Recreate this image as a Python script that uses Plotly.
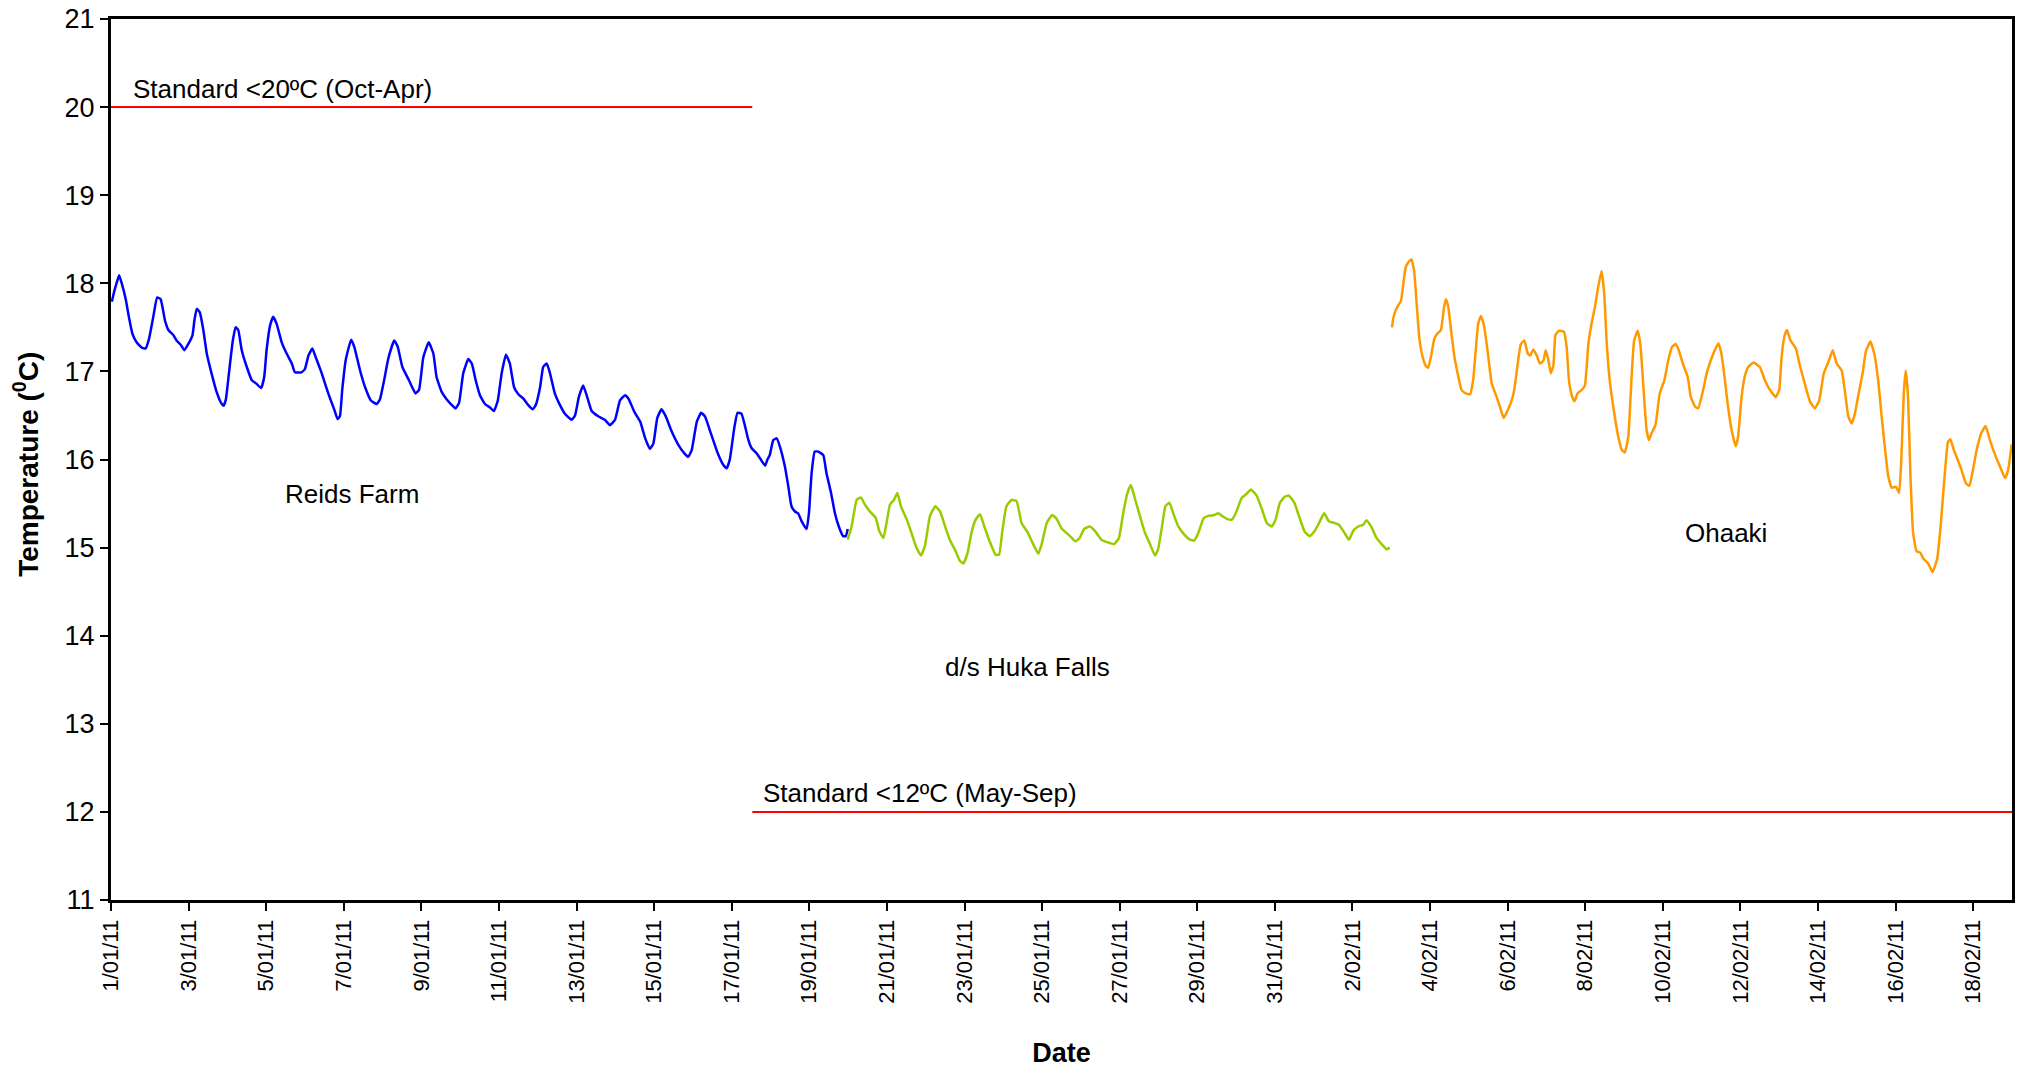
import pandas as pd
import plotly.graph_objects as go

# Logger records, time as elapsed days since 1 Jan 2011 00:00, temperature in deg C
START = pd.Timestamp("2011-01-01")

reids_day = [0.02, 0.09, 0.15, 0.21, 0.27, 0.38, 0.46, 0.55, 0.66, 0.79,
             0.89, 0.98, 1.09, 1.19, 1.28, 1.39, 1.48, 1.61, 1.69, 1.80,
             1.89, 1.99, 2.10, 2.15, 2.21, 2.29, 2.38, 2.47, 2.59, 2.72,
             2.84, 2.90, 2.96, 3.04, 3.14, 3.21, 3.28, 3.37, 3.50, 3.63,
             3.75, 3.87, 3.95, 4.01, 4.10, 4.18, 4.27, 4.40, 4.53, 4.66,
             4.74, 4.91, 5.00, 5.09, 5.19, 5.26, 5.43, 5.60, 5.76, 5.84,
             5.90, 5.96, 6.05, 6.19, 6.27, 6.42, 6.55, 6.70, 6.85, 6.93,
             7.04, 7.15, 7.30, 7.39, 7.51, 7.68, 7.85, 7.94, 8.05, 8.19,
             8.31, 8.39, 8.52, 8.64, 8.78, 8.88, 8.97, 9.08, 9.21, 9.30,
             9.40, 9.51, 9.64, 9.77, 9.87, 9.97, 10.07, 10.18, 10.28, 10.39,
             10.50, 10.63, 10.75, 10.87, 10.95, 11.06, 11.14, 11.23, 11.31, 11.44,
             11.57, 11.70, 11.87, 11.96, 12.06, 12.17, 12.26, 12.39, 12.56, 12.73,
             12.86, 12.99, 13.12, 13.25, 13.34, 13.49, 13.64, 13.77, 13.89, 13.98,
             14.08, 14.19, 14.30, 14.45, 14.62, 14.78, 14.88, 14.97, 15.10, 15.21,
             15.31, 15.46, 15.64, 15.78, 15.87, 15.95, 16.07, 16.15, 16.25,
             16.43, 16.51, 16.64, 16.75, 16.86, 16.92, 16.98, 17.07, 17.16, 17.24,
             17.37, 17.46, 17.54, 17.63, 17.71, 17.80, 17.93, 17.99, 18.06, 18.14,
             18.23, 18.36, 18.44, 18.56, 18.66, 18.76, 18.87, 18.94, 18.99]
reids_temp = [17.79, 17.92, 18.01, 18.09, 18.01, 17.82, 17.62, 17.43, 17.33, 17.27,
              17.26, 17.37, 17.62, 17.84, 17.82, 17.58, 17.47, 17.41, 17.35, 17.30,
              17.24, 17.31, 17.41, 17.58, 17.71, 17.67, 17.47, 17.20, 16.98, 16.77,
              16.64, 16.61, 16.68, 16.98, 17.35, 17.50, 17.47, 17.24, 17.05, 16.90,
              16.86, 16.81, 16.94, 17.24, 17.52, 17.62, 17.54, 17.33, 17.20, 17.09,
              16.99, 16.99, 17.03, 17.18, 17.26, 17.18, 16.98, 16.75, 16.56, 16.46,
              16.49, 16.79, 17.13, 17.36, 17.28, 17.01, 16.82, 16.67, 16.63, 16.68,
              16.90, 17.15, 17.35, 17.28, 17.05, 16.90, 16.75, 16.79, 17.16, 17.33,
              17.20, 16.94, 16.77, 16.69, 16.62, 16.58, 16.64, 16.98, 17.14, 17.09,
              16.90, 16.73, 16.63, 16.59, 16.55, 16.67, 16.98, 17.19, 17.09, 16.82,
              16.74, 16.69, 16.62, 16.57, 16.62, 16.82, 17.05, 17.09, 16.99, 16.75,
              16.62, 16.52, 16.45, 16.50, 16.71, 16.84, 16.73, 16.55, 16.49, 16.45,
              16.39, 16.45, 16.67, 16.73, 16.69, 16.54, 16.43, 16.24, 16.12, 16.18,
              16.47, 16.57, 16.49, 16.32, 16.17, 16.07, 16.03, 16.11, 16.43, 16.53,
              16.49, 16.30, 16.07, 15.94, 15.90, 16.00, 16.37, 16.53, 16.52,
              16.22, 16.13, 16.07, 16.00, 15.93, 16.00, 16.05, 16.22, 16.24, 16.15,
              15.92, 15.69, 15.47, 15.41, 15.39, 15.30, 15.21, 15.39, 15.85, 16.09,
              16.09, 16.05, 15.85, 15.62, 15.39, 15.24, 15.13, 15.13, 15.21]

huka_day = [18.99, 19.09, 19.22, 19.33, 19.43, 19.56, 19.71, 19.80, 19.91, 19.99,
            20.08, 20.18, 20.27, 20.36, 20.51, 20.63, 20.76, 20.88, 20.98, 21.11,
            21.25, 21.37, 21.50, 21.62, 21.77, 21.88, 21.97, 22.08, 22.18, 22.29,
            22.40, 22.51, 22.65, 22.80, 22.89, 22.97, 23.08, 23.21, 23.34, 23.47,
            23.63, 23.77, 23.90, 23.99, 24.12, 24.26, 24.37, 24.50,
            24.72, 24.86, 24.97, 25.08, 25.23, 25.36, 25.53, 25.69, 25.86, 25.98,
            26.09, 26.20, 26.29, 26.39, 26.52, 26.65, 26.78, 26.91, 26.99, 27.08,
            27.18, 27.28, 27.38, 27.51, 27.66, 27.81, 27.92, 28.03, 28.16, 28.28,
            28.44, 28.54, 28.67, 28.80, 28.90, 29.01, 29.14, 29.27, 29.38, 29.53,
            29.67, 29.79, 29.92, 30.02, 30.13, 30.26, 30.36, 30.50, 30.65, 30.77,
            30.90, 31.03, 31.14, 31.27, 31.39, 31.53, 31.65, 31.79, 31.91, 32.02,
            32.15, 32.28, 32.36, 32.48, 32.62, 32.75, 32.88, 32.96]
huka_temp = [15.09, 15.24, 15.54, 15.57, 15.49, 15.41, 15.34, 15.19, 15.11, 15.28,
             15.49, 15.54, 15.62, 15.47, 15.32, 15.17, 15.00, 14.91, 15.02, 15.36,
             15.47, 15.41, 15.24, 15.09, 14.96, 14.85, 14.82, 14.94, 15.17, 15.32,
             15.38, 15.24, 15.07, 14.92, 14.92, 15.17, 15.47, 15.54, 15.53, 15.28,
             15.17, 15.04, 14.93, 15.04, 15.28, 15.37, 15.33, 15.22,
             15.13, 15.07, 15.11, 15.21, 15.24, 15.19, 15.09, 15.06, 15.04, 15.11,
             15.39, 15.62, 15.71, 15.56, 15.36, 15.17, 15.04, 14.91, 14.98, 15.21,
             15.47, 15.51, 15.39, 15.24, 15.15, 15.09, 15.08, 15.17, 15.33, 15.36,
             15.37, 15.39, 15.35, 15.32, 15.32, 15.41, 15.56, 15.61, 15.66, 15.59,
             15.43, 15.28, 15.24, 15.32, 15.51, 15.58, 15.59, 15.51, 15.32, 15.18,
             15.13, 15.19, 15.28, 15.39, 15.30, 15.28, 15.26, 15.17, 15.09, 15.19,
             15.24, 15.26, 15.31, 15.24, 15.11, 15.04, 14.98, 15.00]

ohaaki_day = [33.02, 33.05, 33.11, 33.18, 33.25, 33.31, 33.37, 33.44, 33.52, 33.59,
              33.65, 33.72, 33.80, 33.88, 33.95, 34.02, 34.11, 34.19, 34.28, 34.36,
              34.41, 34.47, 34.54, 34.63, 34.71, 34.81, 34.92, 35.03, 35.11, 35.17,
              35.24, 35.31, 35.39, 35.48, 35.59, 35.70, 35.80, 35.90, 36.00, 36.08,
              36.17, 36.26, 36.34, 36.43, 36.52, 36.58, 36.66, 36.75, 36.83, 36.92,
              36.98, 37.05, 37.11, 37.18, 37.23, 37.32, 37.45, 37.52, 37.58, 37.65,
              37.72, 37.80, 37.91, 37.99, 38.08, 38.16, 38.25, 38.33, 38.42, 38.49,
              38.55, 38.63, 38.75, 38.85, 38.94, 39.02, 39.11, 39.19, 39.26, 39.35,
              39.42, 39.50, 39.58, 39.64, 39.71, 39.81, 39.92, 40.04, 40.14, 40.24,
              40.33, 40.41, 40.53, 40.64, 40.72, 40.83, 40.91,
              41.04, 41.13, 41.21, 41.30, 41.43, 41.51, 41.60, 41.68, 41.77, 41.88,
              41.94, 42.03, 42.11, 42.20, 42.34, 42.50, 42.63, 42.76, 42.91, 43.00,
              43.06, 43.14, 43.20, 43.29, 43.43, 43.53, 43.66, 43.79, 43.92, 44.03,
              44.15, 44.27, 44.38, 44.48, 44.61, 44.70, 44.78, 44.87, 44.95, 45.03,
              45.15, 45.23, 45.35, 45.46, 45.55, 45.64, 45.72, 45.81, 45.90, 46.01,
              46.09, 46.15, 46.21, 46.26, 46.32, 46.38, 46.45, 46.54, 46.64, 46.72,
              46.84, 46.95, 47.07, 47.16, 47.27, 47.35, 47.41, 47.50, 47.58, 47.70,
              47.81, 47.90, 47.98, 48.09, 48.21, 48.32, 48.43, 48.55, 48.69, 48.82,
              48.90, 48.99]
ohaaki_temp = [17.50, 17.60, 17.69, 17.75, 17.80, 17.99, 18.18, 18.24, 18.27, 18.14,
               17.80, 17.39, 17.18, 17.07, 17.04, 17.16, 17.37, 17.43, 17.47, 17.73,
               17.82, 17.73, 17.47, 17.16, 16.98, 16.79, 16.75, 16.74, 16.90, 17.20,
               17.54, 17.63, 17.52, 17.24, 16.86, 16.73, 16.60, 16.47, 16.56, 16.64,
               16.79, 17.09, 17.31, 17.35, 17.20, 17.18, 17.25, 17.18, 17.09, 17.12,
               17.24, 17.13, 16.98, 17.07, 17.41, 17.46, 17.45, 17.28, 16.90, 16.73,
               16.66, 16.75, 16.79, 16.84, 17.31, 17.54, 17.73, 17.95, 18.14, 17.88,
               17.35, 16.90, 16.52, 16.26, 16.11, 16.08, 16.26, 16.90, 17.35, 17.46,
               17.31, 16.82, 16.34, 16.22, 16.30, 16.39, 16.75, 16.90, 17.13, 17.28,
               17.31, 17.24, 17.07, 16.94, 16.71, 16.60, 16.58,
               16.79, 16.98, 17.09, 17.20, 17.32, 17.20, 16.90, 16.60, 16.34, 16.15,
               16.26, 16.71, 16.94, 17.05, 17.10, 17.05, 16.90, 16.79, 16.71, 16.79,
               17.16, 17.41, 17.47, 17.35, 17.26, 17.07, 16.86, 16.66, 16.58, 16.67,
               16.98, 17.11, 17.24, 17.09, 17.01, 16.75, 16.49, 16.41, 16.52, 16.71,
               16.98, 17.22, 17.34, 17.18, 16.90, 16.49, 16.15, 15.81, 15.68, 15.69,
               15.62, 16.03, 16.75, 17.01, 16.71, 15.85, 15.17, 14.96, 14.94, 14.87,
               14.82, 14.72, 14.87, 15.24, 15.85, 16.20, 16.23, 16.11, 16.02, 15.88,
               15.73, 15.70, 15.85, 16.11, 16.30, 16.38, 16.22, 16.07, 15.92, 15.79,
               15.88, 16.17]

# Guideline limits: (start day, end day, limit)
summer_std = [0.0, 16.53, 20]
winter_std = [16.53, 49.0, 12]

x_start = "2011-01-01"
x_end = "2011-02-19"


def to_time(days):
    return START + pd.to_timedelta(pd.Series(days), unit="D")


FONT = "Liberation Sans, Arial, sans-serif"

fig = go.Figure()

for days, temps, colour, name in [
    (reids_day, reids_temp, "#0000FF", "Reids Farm"),
    (huka_day, huka_temp, "#99CC00", "d/s Huka Falls"),
    (ohaaki_day, ohaaki_temp, "#FF9900", "Ohaaki"),
]:
    fig.add_trace(go.Scatter(
        x=to_time(days), y=temps, mode="lines", name=name,
        line=dict(color=colour, width=2.5, shape="spline", smoothing=0.4),
        showlegend=False,
    ))

for seg in (summer_std, winter_std):
    fig.add_trace(go.Scatter(
        x=to_time(seg[:2]), y=[seg[2], seg[2]], mode="lines",
        line=dict(color="#FF0000", width=2), showlegend=False,
    ))

labels = [
    (0.52, 20.21, "Standard <20ºC (Oct-Apr)", "left"),
    (16.76, 12.21, "Standard <12ºC (May-Sep)", "left"),
    (6.22, 15.61, "Reids Farm", "center"),
    (23.62, 13.65, "d/s Huka Falls", "center"),
    (41.62, 15.17, "Ohaaki", "center"),
]
for d, t, text, anchor in labels:
    fig.add_annotation(
        x=START + pd.Timedelta(days=d), y=t, text=text, showarrow=False,
        xanchor=anchor, yanchor="middle",
        font=dict(family=FONT, size=26, color="black"),
    )

# Vertical axis title, set just inside the left page edge
fig.add_annotation(
    xref="paper", yref="paper", x=-0.0447, y=0.494,
    text="<b>Temperature (<sup>0</sup>C)</b>", textangle=-90, showarrow=False,
    xanchor="center", yanchor="middle",
    font=dict(family=FONT, size=28, color="black"),
)

fig.update_layout(
    width=2024, height=1069,
    margin=dict(l=111, r=12, t=19, b=169),
    paper_bgcolor="white", plot_bgcolor="white",
    font=dict(family=FONT, color="black"),
)

fig.update_xaxes(
    type="date", range=[x_start, x_end], automargin=False,
    tick0=x_start, dtick=2 * 86400000, tickformat="%-d/%m/%y",
    tickangle=-90, ticks="outside", ticklen=8, tickwidth=2, tickcolor="black",
    tickfont=dict(family=FONT, size=22, color="black"),
    showline=True, linecolor="black", linewidth=3, mirror=True,
    showgrid=False, zeroline=False,
    title=dict(text="<b>Date</b>", font=dict(family=FONT, size=27, color="black"), standoff=41),
)
fig.update_yaxes(
    range=[11, 21], tick0=11, dtick=1, automargin=False,
    ticks="outside", ticklen=8, tickwidth=2, tickcolor="black",
    tickfont=dict(family=FONT, size=27, color="black"),
    showline=True, linecolor="black", linewidth=3, mirror=True,
    showgrid=False, zeroline=False,
)

fig.write_html("out.html")
